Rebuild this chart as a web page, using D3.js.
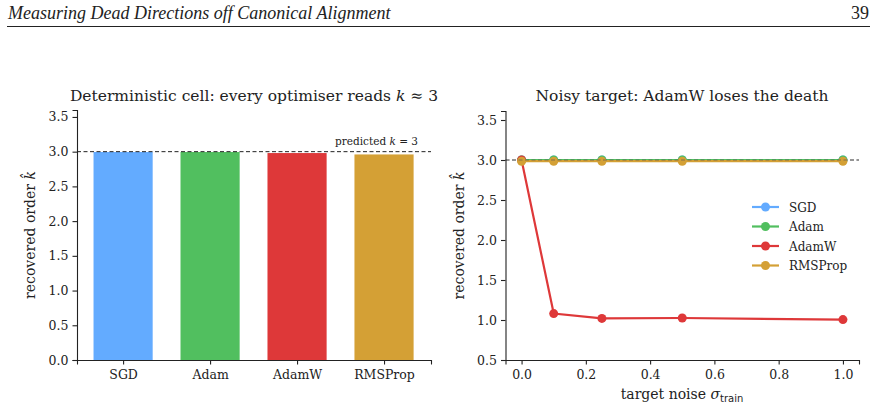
<!DOCTYPE html>
<html><head><meta charset="utf-8">
<script src="https://cdn.jsdelivr.net/npm/d3@7"></script>
<style>body{margin:0;background:#fff}svg{display:block}</style>
</head><body>
<svg id="c" width="877" height="412"></svg>
<script>
const optimisers = ["SGD","Adam","AdamW","RMSProp"];
const colors = ["#63abff","#51bf5f","#de3839","#d4a035"];
const barValues = [2.995, 2.995, 2.98, 2.96];
const noiseLevels = [0, 0.1, 0.25, 0.5, 1.0];
const seriesSGD = [3.0, 3.0, 3.0, 3.0, 3.0];
const seriesAdam = [3.0, 3.0, 3.0, 3.0, 3.0];
const seriesAdamW = [3.0, 1.08, 1.02, 1.025, 1.005];
const seriesRMSProp = [2.985, 2.985, 2.985, 2.985, 2.985];
const leftTicks = [0,0.5,1,1.5,2,2.5,3,3.5];
const rightYTicks = [0.5,1,1.5,2,2.5,3,3.5];
const rightXTicks = [0,0.2,0.4,0.6,0.8,1.0];

const svg = d3.select("#c");
const serif = "DejaVu Serif";

// header
svg.append("text").attr("x",8).attr("y",19).attr("font-family","Liberation Serif")
  .attr("font-style","italic").attr("font-size",18).attr("fill","#222")
  .text("Measuring Dead Directions off Canonical Alignment");
svg.append("text").attr("x",869).attr("y",19).attr("text-anchor","end").attr("font-family","Liberation Serif")
  .attr("font-size",18).attr("fill","#222").text("39");
svg.append("line").attr("x1",7).attr("x2",870).attr("y1",26.5).attr("y2",26.5).attr("stroke","#222").attr("stroke-width",1);

function styleAxis(g){
  g.selectAll("path").attr("stroke","#222").attr("stroke-width",1.1);
  g.selectAll("line").attr("stroke","#222").attr("stroke-width",1.1);
  g.selectAll("text").attr("font-family",serif).attr("font-size",12.5).attr("fill","#222");
}

// LEFT PANEL
const L = {x0:77, x1:431, y0:360, y1:110};
const lx = d3.scaleLinear().domain([-0.53,3.54]).range([L.x0,L.x1]);
const ly = d3.scaleLinear().domain([0,3.6]).range([L.y0,L.y1]);
const bw = lx(0.68)-lx(0);
svg.append("g").selectAll("rect").data(barValues).join("rect")
  .attr("x",(d,i)=>lx(i)-bw/2).attr("width",bw)
  .attr("y",d=>ly(d)).attr("height",d=>ly(0)-ly(d))
  .attr("fill",(d,i)=>colors[i]);
svg.append("line").attr("x1",L.x0).attr("x2",L.x1).attr("y1",ly(3)).attr("y2",ly(3))
  .attr("stroke","#222").attr("stroke-width",1).attr("stroke-dasharray","4,2.5");
svg.append("text").attr("x",418).attr("y",ly(3)-7).attr("text-anchor","end")
  .attr("font-family",serif).attr("font-size",10.5).attr("fill","#222")
  .html('predicted <tspan font-style="italic">k</tspan> = 3');
const lxa = svg.append("g").attr("transform",`translate(0,${L.y0})`)
  .call(d3.axisBottom(lx).tickValues([0,1,2,3]).tickFormat((d)=>optimisers[d]).tickSizeOuter(0).tickSize(4.5).tickPadding(6));
styleAxis(lxa);
const lya = svg.append("g").attr("transform",`translate(${L.x0},0)`)
  .call(d3.axisLeft(ly).tickValues(leftTicks).tickFormat(d3.format(".1f")).tickSizeOuter(0).tickSize(4.5).tickPadding(4));
styleAxis(lya);
svg.append("text").attr("x",254).attr("y",101).attr("text-anchor","middle")
  .attr("font-family",serif).attr("font-size",15.5).attr("fill","#222")
  .html('Deterministic cell: every optimiser reads <tspan font-style="italic">k</tspan> ≈ 3');
svg.append("text").attr("transform",`translate(35,${(L.y0+L.y1)/2}) rotate(-90)`).attr("text-anchor","middle")
  .attr("font-family",serif).attr("font-size",14).attr("fill","#222")
  .html('recovered order <tspan font-style="italic">k̂</tspan>');

// RIGHT PANEL
const R = {x0:505.5, x1:859, y0:360, y1:111};
const rx = d3.scaleLinear().domain([-0.05,1.05]).range([R.x0,R.x1]);
const ry = d3.scaleLinear().domain([0.5,3.6125]).range([R.y0,R.y1]);
svg.append("line").attr("x1",R.x0).attr("x2",R.x1).attr("y1",ry(3)).attr("y2",ry(3))
  .attr("stroke","#666").attr("stroke-width",1).attr("stroke-dasharray","4,2.5");
const series = [seriesSGD, seriesAdam, seriesAdamW, seriesRMSProp];
const line = d3.line().x((d,i)=>rx(noiseLevels[i])).y(d=>ry(d));
series.forEach((s,k)=>{
  const g = svg.append("g");
  g.append("path").attr("d",line(s)).attr("fill","none").attr("stroke",colors[k]).attr("stroke-width",2.2);
  g.selectAll("circle").data(s).join("circle").attr("cx",(d,i)=>rx(noiseLevels[i])).attr("cy",d=>ry(d))
    .attr("r",4.5).attr("fill",colors[k]);
});
svg.append("line").attr("x1",R.x0).attr("x2",R.x1).attr("y1",ry(3)).attr("y2",ry(3))
  .attr("stroke","#555").attr("stroke-width",0.9).attr("stroke-dasharray","4,2.5").attr("opacity",0.7);
const rxa = svg.append("g").attr("transform",`translate(0,${R.y0})`)
  .call(d3.axisBottom(rx).tickValues(rightXTicks).tickFormat(d3.format(".1f")).tickSizeOuter(0).tickSize(4.5).tickPadding(6));
styleAxis(rxa);
const rya = svg.append("g").attr("transform",`translate(${R.x0},0)`)
  .call(d3.axisLeft(ry).tickValues(rightYTicks).tickFormat(d3.format(".1f")).tickSizeOuter(0).tickSize(4.5).tickPadding(4));
styleAxis(rya);
svg.append("text").attr("x",682).attr("y",101).attr("text-anchor","middle")
  .attr("font-family",serif).attr("font-size",15.5).attr("fill","#222")
  .text("Noisy target: AdamW loses the death");
svg.append("text").attr("transform",`translate(464,${(R.y0+R.y1)/2}) rotate(-90)`).attr("text-anchor","middle")
  .attr("font-family",serif).attr("font-size",14).attr("fill","#222")
  .html('recovered order <tspan font-style="italic">k̂</tspan>');
svg.append("text").attr("x",682).attr("y",399).attr("text-anchor","middle")
  .attr("font-family",serif).attr("font-size",14).attr("fill","#222")
  .html('target noise <tspan font-style="italic">σ</tspan><tspan font-family="DejaVu Sans" font-size="10" dy="3">train</tspan>');

// legend
const lg = svg.append("g").attr("transform","translate(752,207)");
optimisers.forEach((n,i)=>{
  const y = i*19.5;
  lg.append("line").attr("x1",0).attr("x2",27).attr("y1",y).attr("y2",y).attr("stroke",colors[i]).attr("stroke-width",2.2);
  lg.append("circle").attr("cx",13.5).attr("cy",y).attr("r",4.5).attr("fill",colors[i]);
  lg.append("text").attr("x",37).attr("y",y+4.5).attr("font-family",serif).attr("font-size",12).attr("fill","#222").text(n);
});
</script>
</body></html>
